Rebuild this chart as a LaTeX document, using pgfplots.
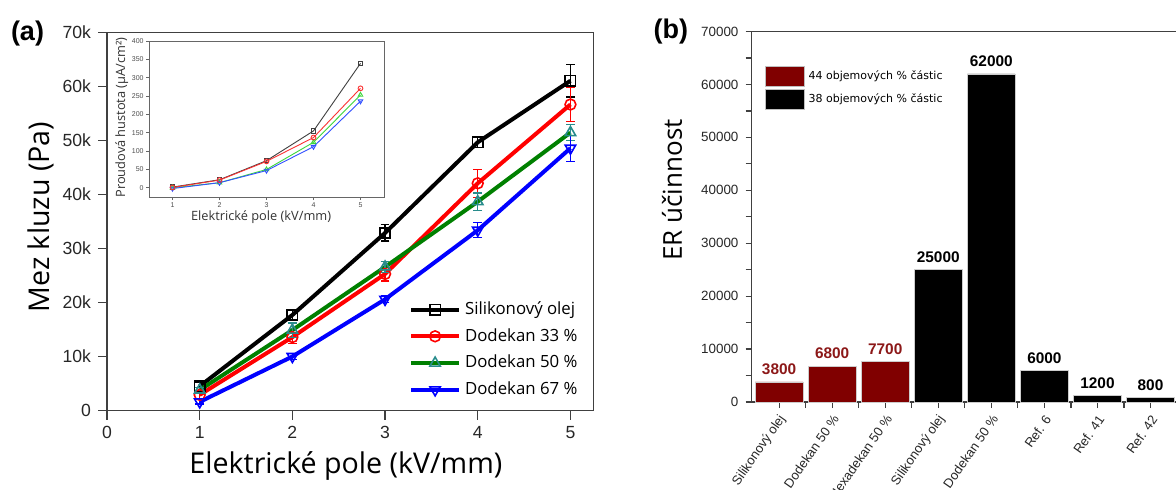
\documentclass[border=0pt]{standalone}
\usepackage{pgfplots}
\pgfplotsset{compat=1.18}
\usepackage{fontspec}
\setmainfont{Liberation Sans}
\newfontfamily\opensans{Open Sans}
\newfontfamily\dejavu{DejaVu Sans}
\definecolor{maroon}{RGB}{128,0,0}
\definecolor{maroontxt}{RGB}{140,24,24}
\definecolor{teal2}{RGB}{40,140,140}
\definecolor{dgreen}{RGB}{0,128,0}
\definecolor{igreen}{RGB}{60,215,60}
\definecolor{iblue}{RGB}{50,80,255}
\definecolor{ired}{RGB}{250,50,50}
\pgfplotsset{
  eb/.style={error bars/.cd, y dir=both, y explicit,
    error bar style={line width=0.6pt, #1},
    error mark options={rotate=90, mark size=2.2pt, line width=0.6pt, #1}},
}
\begin{document}
\begin{tikzpicture}
\useasboundingbox (0,0) rectangle (588pt,244.5pt);
% ---------------- (a) main ----------------
\begin{axis}[
 at={(53.5pt,39.25pt)}, anchor=south west,
 scale only axis, width=243.3pt, height=188.9pt,
 xmin=0, xmax=5.25, ymin=0, ymax=70,
 xtick={0,1,2,3,4,5}, ytick={0,10,...,70},
 yticklabels={0,10k,20k,30k,40k,50k,60k,70k},
 tick align=outside, xtick pos=bottom, ytick pos=left,
 major tick length=4.5pt,
 axis line style={line width=0.7pt, black!75},
 every tick/.style={line width=0.7pt, black!75},
 /pgf/number format/assume math mode=true,
 ticklabel style={font=\fontsize{8.8}{10}\selectfont, text=black!85},
 xlabel={Elektrické pole (kV/mm)}, ylabel={Mez kluzu (Pa)},
 label style={font=\opensans\fontsize{14.3}{16}\selectfont},
 xlabel style={at={(axis description cs:0.491,-0.146)}, anchor=center},
 ylabel style={at={(axis description cs:-0.1356,0.512)}, anchor=center},
 legend style={at={(axis description cs:0.62,0.30)}, anchor=north west, draw=none, fill=none,
   font=\opensans\fontsize{8.4}{9}\selectfont, inner sep=0pt, row sep=1.5pt},
 legend cell align=left,
 legend image code/.code={\draw[mark repeat=2, mark phase=2, #1] plot coordinates {(0pt,0pt) (12pt,0pt) (24pt,0pt)};},
 every axis plot/.append style={line width=2pt},
]
\addplot[black, mark=square, mark size=2.6pt, mark options={solid, draw=black, fill=white, line width=0.8pt}, eb=black]
 coordinates {(1,4.5) +- (0,0.8) (2,17.7) +- (0,0.8) (3,32.9) +- (0,1.5) (4,49.7) +- (0,1.0) (5,61.1) +- (0,3.0)};
\addplot[red, mark=o, mark size=2.7pt, mark options={solid, draw=red, fill=white, line width=0.8pt}, eb=red]
 coordinates {(1,2.9) +- (0,0.8) (2,13.6) +- (0,1.2) (3,25.3) +- (0,1.3) (4,42.1) +- (0,2.6) (5,56.7) +- (0,3.2)};
\addplot[dgreen, mark=triangle, mark size=3pt, mark options={solid, draw=teal2, fill=white, line width=0.8pt}, eb=teal2]
 coordinates {(1,3.8) +- (0,0.5) (2,14.9) +- (0,1.3) (3,26.6) +- (0,1.0) (4,38.7) +- (0,1.6) (5,51.5) +- (0,1.5)};
\addplot[blue, mark=triangle, mark size=3pt, mark options={solid, rotate=180, draw=blue, fill=white, line width=0.8pt}, eb=blue]
 coordinates {(1,1.6) +- (0,0.4) (2,10.0) +- (0,0.5) (3,20.6) +- (0,0.6) (4,33.4) +- (0,1.4) (5,48.6) +- (0,2.4)};
\legend{Silikonový olej, Dodekan 33 \%, Dodekan 50 \%, Dodekan 67 \%}
\end{axis}
% ---------------- (a) inset ----------------
\begin{axis}[
 at={(74.5pt,146pt)}, anchor=south west,
 scale only axis, width=117.5pt, height=78pt,
 xmin=0.5, xmax=5.5, ymin=-25, ymax=400,
 xtick={1,2,3,4,5}, ytick={0,50,...,400},
 axis background/.style={fill=white},
 tick align=outside, xtick pos=bottom, ytick pos=left,
 major tick length=1.5pt,
 axis line style={line width=0.4pt, black!60},
 every tick/.style={line width=0.4pt, black!60},
 /pgf/number format/assume math mode=true,
 ticklabel style={font=\fontsize{3.5}{4}\selectfont, text=black!70, inner sep=1pt},
 xlabel={Elektrické pole (kV/mm)}, ylabel={Proudová hustota (µA/cm²)},
 label style={font=\opensans\fontsize{6.4}{7}\selectfont, text=black!80},
 xlabel style={at={(axis description cs:0.477,-0.128)}, anchor=center},
 ylabel style={at={(axis description cs:-0.116,0.51)}, anchor=center},
 every axis plot/.append style={line width=0.45pt},
]
\addplot[black!75, mark=square, mark size=1.1pt, mark options={solid, fill=white}]
 coordinates {(1,2) (2,22) (3,74) (4,155) (5,339)};
\addplot[igreen, mark=triangle, mark size=1.3pt, mark options={solid, fill=white}]
 coordinates {(1,0) (2,14) (3,50) (4,124) (5,253)};
\addplot[iblue, mark=triangle, mark size=1.3pt, mark options={solid, rotate=180, fill=white}]
 coordinates {(1,-2) (2,14) (3,47) (4,112) (5,236)};
\addplot[ired, mark=o, mark size=1.2pt, mark options={solid, fill=white}]
 coordinates {(1,1) (2,21) (3,72) (4,137) (5,271)};
\end{axis}
% ---------------- (b) ----------------
\begin{axis}[
 at={(375.75pt,43.5pt)}, anchor=south west,
 scale only axis, width=212.5pt, height=185.25pt,
 xmin=0.48, xmax=8.49, ymin=0, ymax=70000,
 xtick={1,...,8},
 xticklabels={Silikonový olej, Dodekan 50 \%, Hexadekan 50 \%, Silikonový olej, Dodekan 50 \%, Ref. 6, Ref. 41, Ref. 42},
 minor xtick={1.5,2.5,...,7.5},
 ytick={0,10000,...,70000}, minor ytick={5000,15000,...,65000},
 scaled y ticks=false,
 /pgf/number format/.cd, fixed, precision=0, 1000 sep={}, assume math mode=true, /pgfplots/.cd,
 tick align=outside, xtick pos=bottom, ytick pos=left,
 major tick length=3pt, minor tick length=3pt,
 axis line style={line width=0.6pt, black!75},
 every tick/.style={line width=0.6pt, black!75},
 yticklabel style={font=\fontsize{6.7}{8}\selectfont, text=black!85},
 xticklabel style={rotate=55, anchor=east, font=\fontsize{6.5}{8}\selectfont, text=black!85, yshift=-4pt, xshift=1pt},
 ylabel={ER účinnost},
 ylabel style={font=\opensans\fontsize{13}{15}\selectfont, at={(axis description cs:-0.187,0.572)}, anchor=center},
 legend style={at={(axis description cs:0.031,0.907)}, anchor=north west, draw=none, fill=none,
   font=\dejavu\fontsize{5.5}{6}\selectfont, inner sep=0pt, row sep=1pt},
 legend cell align=left,
 ybar,
 nodes near coords,
 nodes near coords style={font=\bfseries\fontsize{7.7}{9}\selectfont},
]
\addplot[ybar, bar shift=0pt, bar width=0.9, fill=maroon, draw=gray!40, line width=0.3pt,
  every node near coord/.append style={text=maroontxt},
  legend image code/.code={\draw[fill=maroon, draw=gray!50, line width=0.3pt] (0pt,-5pt) rectangle (19.5pt,5pt);}]
 coordinates {(1,3800) (2,6800) (3,7700)};
\addlegendentry{44 objemových \% částic}
\addplot[ybar, bar shift=0pt, bar width=0.9, fill=black, draw=gray!40, line width=0.3pt,
  every node near coord/.append style={text=black},
  legend image code/.code={\draw[fill=black, draw=gray!50, line width=0.3pt] (0pt,-5pt) rectangle (19.5pt,5pt);}]
 coordinates {(4,25000) (5,62000) (6,6000) (7,1200) (8,800)};
\addlegendentry{38 objemových \% částic}
\end{axis}
\node[font=\bfseries\fontsize{13.5}{15}\selectfont] at (13.75pt,227.75pt) {(a)};
\node[font=\bfseries\fontsize{13.5}{15}\selectfont] at (335.4pt,228.5pt) {(b)};
\end{tikzpicture}
\end{document}
